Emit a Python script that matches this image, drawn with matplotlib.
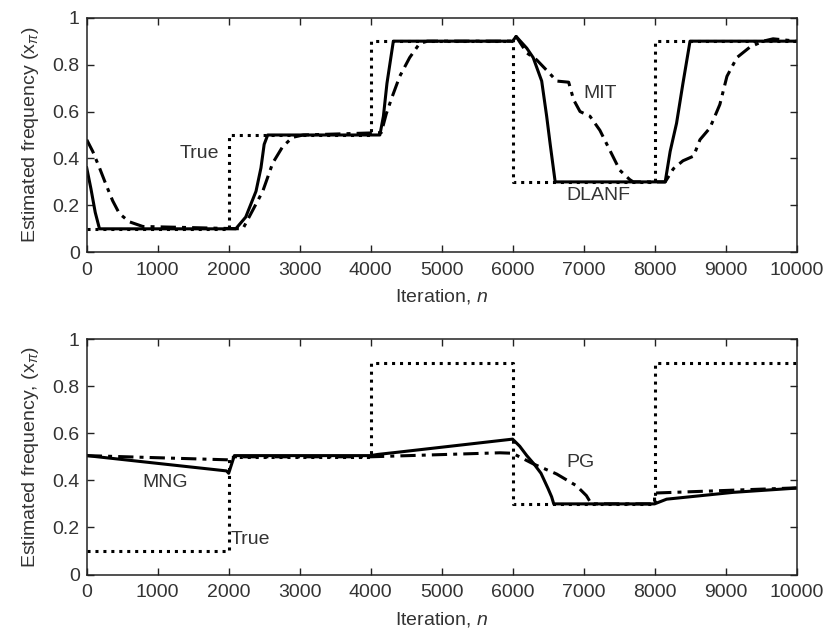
import matplotlib
matplotlib.use("Agg")
import matplotlib.pyplot as plt

plt.rcParams['font.family'] = ['Liberation Sans', 'DejaVu Sans']
plt.rcParams['mathtext.fontset'] = 'custom'
plt.rcParams['mathtext.rm'] = 'Liberation Sans'
plt.rcParams['mathtext.it'] = 'Liberation Sans:italic'

# ---------------- Top panel data ----------------
true_top_n = [0, 2000, 2000, 4000, 4000, 6000, 6000, 8000, 8000, 10000]
true_top_v = [0.1, 0.1, 0.5, 0.5, 0.9, 0.9, 0.3, 0.3, 0.9, 0.9]

dlanf_n = [0, 60, 120, 180, 2100, 2240, 2385, 2455, 2500, 2550, 4130, 4180, 4230, 4320,
           6000, 6050, 6200, 6290, 6410, 6480, 6530, 6600, 8150, 8220, 8310, 8400, 8500, 10000]
dlanf_v = [0.36, 0.27, 0.17, 0.1, 0.1, 0.15, 0.26, 0.36, 0.46, 0.5, 0.5, 0.58, 0.72, 0.9,
           0.9, 0.92, 0.87, 0.83, 0.73, 0.58, 0.46, 0.3, 0.3, 0.43, 0.55, 0.72, 0.9, 0.9]

mit_n = [0, 85, 180, 270, 365, 460, 600, 790, 2200, 2340, 2480, 2620, 2760, 2900, 3050,
         4150, 4220, 4300, 4410, 4550, 4690, 4800, 6000, 6050, 6200, 6340, 6530, 6620, 6790,
         6860, 6950, 7090, 7230, 7370, 7510, 7650, 7700, 8150, 8265, 8400, 8550, 8640, 8780,
         8920, 9020, 9160, 9345, 9530, 9670, 10000]
mit_v = [0.48, 0.43, 0.36, 0.29, 0.22, 0.165, 0.13, 0.11, 0.1, 0.18, 0.26, 0.38, 0.45, 0.49, 0.5,
         0.51, 0.59, 0.66, 0.75, 0.83, 0.89, 0.9, 0.9, 0.92, 0.85, 0.82, 0.76, 0.73, 0.725,
         0.65, 0.6, 0.58, 0.52, 0.435, 0.35, 0.31, 0.3, 0.3, 0.356, 0.39, 0.41, 0.48, 0.53,
         0.63, 0.75, 0.83, 0.875, 0.9, 0.91, 0.9]

# ---------------- Bottom panel data ----------------
true_bot_n = [0, 2000, 2000, 4000, 4000, 6000, 6000, 8000, 8000, 10000]
true_bot_v = [0.1, 0.1, 0.5, 0.5, 0.9, 0.9, 0.3, 0.3, 0.9, 0.9]

mng_n = [0, 1970, 2000, 2080, 4000, 4100, 4400, 6000, 6100, 6200, 6300, 6400, 6500, 6550,
         6580, 8000, 8170, 9110, 10000]
mng_v = [0.505, 0.44, 0.43, 0.505, 0.505, 0.51, 0.52, 0.575, 0.545, 0.505, 0.47, 0.43, 0.365,
         0.33, 0.3, 0.3, 0.32, 0.349, 0.367]

pg_n = [0, 2000, 2060, 4000, 5820, 6000, 6290, 6620, 6900, 7040, 7110, 8000, 8000, 10000]
pg_v = [0.505, 0.487, 0.5, 0.5, 0.517, 0.515, 0.47, 0.427, 0.377, 0.335, 0.3, 0.3, 0.346, 0.368]

xticks = [0, 1000, 2000, 3000, 4000, 5000, 6000, 7000, 8000, 9000, 10000]
yticks = [0, 0.2, 0.4, 0.6, 0.8, 1]
ytick_labels = ['0', '0.2', '0.4', '0.6', '0.8', '1']

TXT = '#333333'
FS = 14
dashdot = (0, (5, 2, 1.3, 2))
dotted = (0, (1, 1.6))

fig = plt.figure(figsize=(8.29, 6.39), dpi=100)
ax1 = fig.add_axes([0.1046, 0.6052, 0.8562, 0.3671])
ax2 = fig.add_axes([0.1046, 0.1009, 0.8562, 0.3685])


def style(ax, ylabel):
    ax.set_xlim(0, 10000)
    ax.set_ylim(0, 1)
    ax.set_xticks(xticks)
    ax.set_xticklabels([str(t) for t in xticks])
    ax.set_yticks(yticks)
    ax.set_yticklabels(ytick_labels)
    ax.tick_params(direction='in', top=True, right=True, length=5, width=1,
                   labelsize=FS, labelcolor=TXT, color='#222222')
    ax.tick_params(axis='x', pad=7)
    ax.tick_params(axis='y', pad=5)
    for s in ax.spines.values():
        s.set_linewidth(1.1)
        s.set_color('#222222')
    ax.set_xlabel('Iteration, $\\mathit{n}$', fontsize=FS, color=TXT, labelpad=6)
    ax.set_ylabel(ylabel, fontsize=FS, color=TXT, labelpad=8)


ax1.plot(true_top_n, true_top_v, color='black', lw=2.2, linestyle=dotted)
ax1.plot(mit_n, mit_v, color='black', lw=2.2, linestyle=dashdot)
ax1.plot(dlanf_n, dlanf_v, color='black', lw=2.2, linestyle='-')
style(ax1, 'Estimated frequency (x$_{\\pi}$)')
ax1.text(1586, 0.42, 'True', fontsize=FS, color=TXT, ha='center', va='center')
ax1.text(7232, 0.676, 'MIT', fontsize=FS, color=TXT, ha='center', va='center')
ax1.text(7207, 0.243, 'DLANF', fontsize=FS, color=TXT, ha='center', va='center')

ax2.plot(true_bot_n, true_bot_v, color='black', lw=2.2, linestyle=dotted)
ax2.plot(pg_n, pg_v, color='black', lw=2.2, linestyle=dashdot)
ax2.plot(mng_n, mng_v, color='black', lw=2.2, linestyle='-')
style(ax2, 'Estimated frequency, (x$_{\\pi}$)')
ax2.text(1103, 0.39, 'MNG', fontsize=FS, color=TXT, ha='center', va='center')
ax2.text(2032, 0.149, 'True', fontsize=FS, color=TXT, ha='left', va='center')
ax2.text(6950, 0.476, 'PG', fontsize=FS, color=TXT, ha='center', va='center')

fig.savefig('out.png', dpi=100)
